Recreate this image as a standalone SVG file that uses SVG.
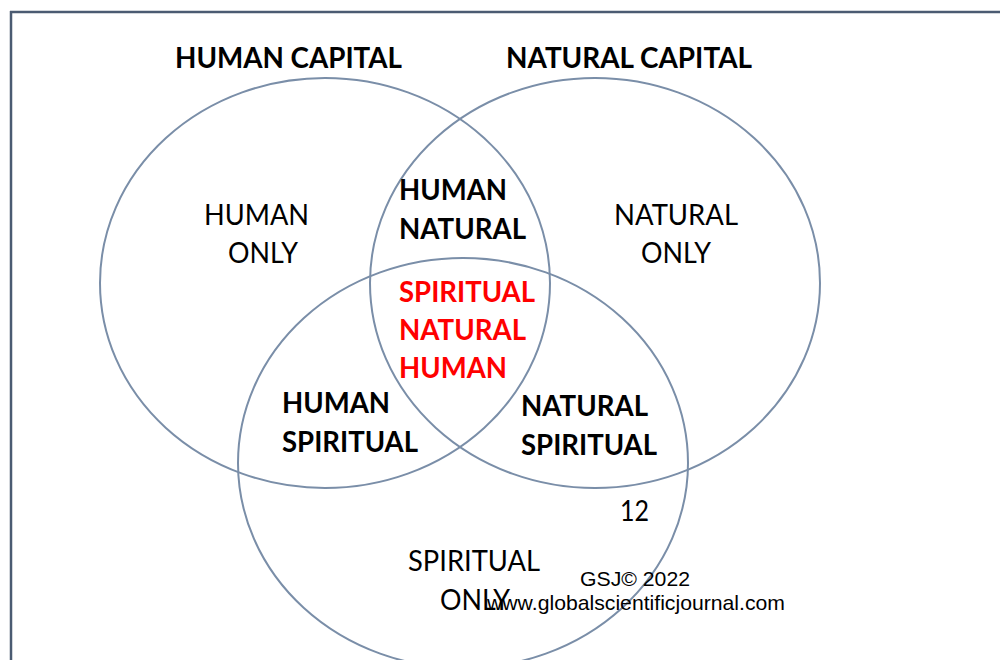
<svg xmlns="http://www.w3.org/2000/svg" width="1000" height="660" viewBox="0 0 1000 660">
  <style>
    .set { fill: none; stroke: #7a8ea8; stroke-width: 2; }
    .frame { fill: none; stroke: #4b5b72; stroke-width: 2.5; }
    .lbl { font-family: Lato, "Open Sans", sans-serif; font-size: 29px; fill: #000; }
    .b { font-weight: bold; }
    .red { fill: #ff0000; }
    .note { font-family: "Liberation Sans", Arial, sans-serif; font-size: 21px; fill: #000; }
  </style>

  <rect width="1000" height="660" fill="#ffffff"/>

  <!-- page frame -->
  <g id="frame">
    <line class="frame" x1="10" y1="12" x2="1000" y2="12"/>
    <line class="frame" x1="11" y1="11" x2="11" y2="660"/>
  </g>

  <!-- the three overlapping sets -->
  <g id="sets">
    <ellipse id="human-capital" class="set" cx="325" cy="283" rx="225" ry="205"/>
    <ellipse id="natural-capital" class="set" cx="595" cy="283" rx="225" ry="205"/>
    <ellipse id="spiritual-capital" class="set" cx="463" cy="463" rx="225" ry="205"/>
  </g>

  <!-- set titles -->
  <g id="titles">
    <text class="lbl b" x="175" y="68" textLength="227" lengthAdjust="spacingAndGlyphs">HUMAN CAPITAL</text>
    <text class="lbl b" x="506" y="68" textLength="246" lengthAdjust="spacingAndGlyphs">NATURAL CAPITAL</text>
  </g>

  <!-- region labels -->
  <g id="human-only">
    <text class="lbl" x="204" y="225" textLength="105" lengthAdjust="spacingAndGlyphs">HUMAN</text>
    <text class="lbl" x="228" y="263" textLength="70" lengthAdjust="spacingAndGlyphs">ONLY</text>
  </g>
  <g id="natural-only">
    <text class="lbl" x="614" y="225" textLength="124" lengthAdjust="spacingAndGlyphs">NATURAL</text>
    <text class="lbl" x="641" y="263" textLength="70" lengthAdjust="spacingAndGlyphs">ONLY</text>
  </g>
  <g id="human-natural">
    <text class="lbl b" x="399" y="200" textLength="108" lengthAdjust="spacingAndGlyphs">HUMAN</text>
    <text class="lbl b" x="399" y="239" textLength="127" lengthAdjust="spacingAndGlyphs">NATURAL</text>
  </g>
  <g id="all-three">
    <text class="lbl b red" x="399" y="302" textLength="136" lengthAdjust="spacingAndGlyphs">SPIRITUAL</text>
    <text class="lbl b red" x="399" y="340" textLength="127" lengthAdjust="spacingAndGlyphs">NATURAL</text>
    <text class="lbl b red" x="399" y="378" textLength="108" lengthAdjust="spacingAndGlyphs">HUMAN</text>
  </g>
  <g id="human-spiritual">
    <text class="lbl b" x="282" y="413" textLength="108" lengthAdjust="spacingAndGlyphs">HUMAN</text>
    <text class="lbl b" x="282" y="452" textLength="136" lengthAdjust="spacingAndGlyphs">SPIRITUAL</text>
  </g>
  <g id="natural-spiritual">
    <text class="lbl b" x="521" y="416" textLength="127" lengthAdjust="spacingAndGlyphs">NATURAL</text>
    <text class="lbl b" x="521" y="455" textLength="136" lengthAdjust="spacingAndGlyphs">SPIRITUAL</text>
  </g>
  <g id="spiritual-only">
    <text class="lbl" x="408" y="571" textLength="132" lengthAdjust="spacingAndGlyphs">SPIRITUAL</text>
    <text class="lbl" x="440" y="610" textLength="70" lengthAdjust="spacingAndGlyphs">ONLY</text>
  </g>

  <!-- page number and journal footer -->
  <g id="footer">
    <text class="lbl" x="620" y="521" textLength="29" lengthAdjust="spacingAndGlyphs">12</text>
    <text class="note" x="580" y="586" textLength="110" lengthAdjust="spacingAndGlyphs">GSJ© 2022</text>
    <text class="note" x="487" y="610" textLength="298" lengthAdjust="spacingAndGlyphs">www.globalscientificjournal.com</text>
  </g>
</svg>
